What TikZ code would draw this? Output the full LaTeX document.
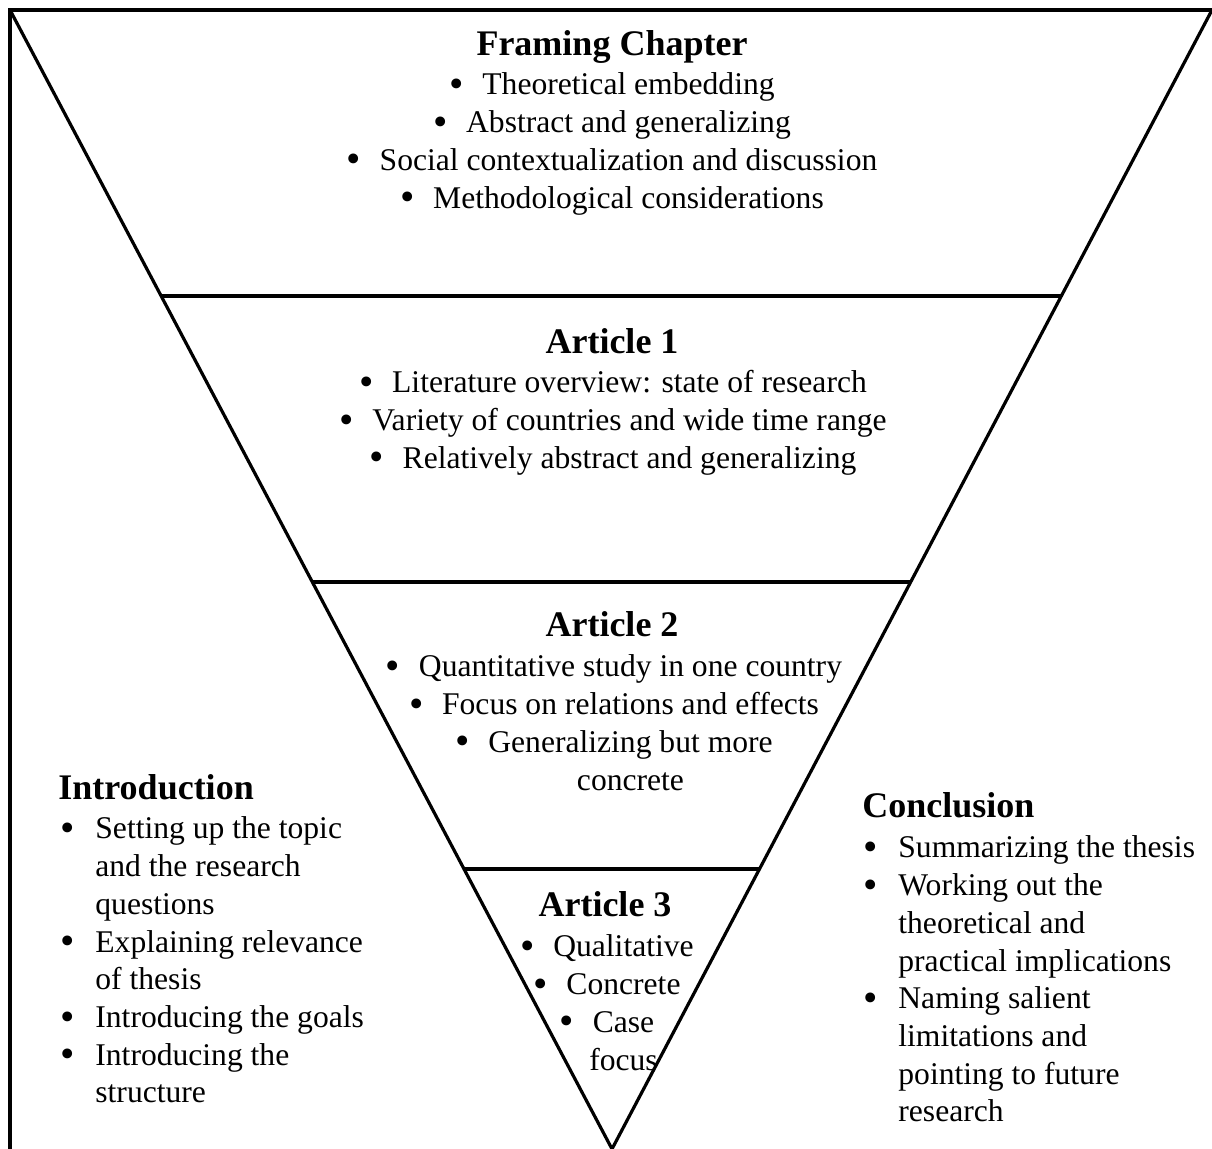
\documentclass[tikz,border=0pt]{standalone}
\usepackage{fontspec}
\usepackage{graphicx}
\setmainfont{Liberation Serif}
\usetikzlibrary{calc}

% a slightly heavier bullet, then a fixed gap before the item text
\newcommand\bulglyph{\raisebox{-0.08em}{\scalebox{1.3}{\textbullet}}}
\newcommand\cbul{\makebox[16.5pt][l]{\bulglyph}}
\newcommand\clpad{\hspace*{16.5pt}}

\begin{document}
\begin{tikzpicture}[x=0.5pt,y=-0.5pt,
  edge/.style={line width=1.6pt, line join=miter},
  head/.style={inner sep=0pt, font=\fontsize{18}{21.6}\selectfont\bfseries},
  items/.style={inner sep=0pt, font=\fontsize{15.8}{18.85}\selectfont},
]
\useasboundingbox (0,0) rectangle (1212,1149);

% outer frame and the inverted triangle
\coordinate (tl) at (10,10);
\coordinate (tr) at (1212,10);
\coordinate (apex) at (612,1149);
\coordinate (frameb) at (10,1170);
\coordinate (framer) at (1240,10);
\draw[edge] (frameb) -- (tl) -- (framer);
\draw[edge] (tl) -- (apex) -- (tr);

% dividers between the levels
\coordinate (d1l) at ($(tl)!0.2511!(apex)$);
\coordinate (d1r) at ($(tr)!0.2511!(apex)$);
\coordinate (d2l) at ($(tl)!0.5022!(apex)$);
\coordinate (d2r) at ($(tr)!0.5022!(apex)$);
\coordinate (d3l) at ($(tl)!0.7542!(apex)$);
\coordinate (d3r) at ($(tr)!0.7542!(apex)$);
\draw[edge] (d1l) -- (d1r);
\draw[edge] (d2l) -- (d2r);
\draw[edge] (d3l) -- (d3r);

% Framing chapter
\node[head, anchor=base] (fch) at (612,56) {Framing Chapter};
\node[items, anchor=base] (fcl) at (612,95) {\begin{tabular}[t]{@{}c@{}}
  \cbul Theoretical embedding\\
  \cbul Abstract and generalizing\\
  \cbul Social contextualization and discussion\\
  \cbul Methodological considerations
\end{tabular}};

% Article 1
\node[head, anchor=base] (a1h) at (612,354) {Article 1};
\node[items, anchor=base] (a1l) at (613,393) {\begin{tabular}[t]{@{}c@{}}
  \cbul Literature overview: state of research\\
  \cbul Variety of countries and wide time range\\
  \cbul Relatively abstract and generalizing
\end{tabular}};

% Article 2
\node[head, anchor=base] (a2h) at (612,637) {Article 2};
\node[items, anchor=base] (a2l) at (614,677) {\begin{tabular}[t]{@{}c@{}}
  \cbul Quantitative study in one country\\
  \cbul Focus on relations and effects\\
  \cbul Generalizing but more\\
  \clpad concrete
\end{tabular}};

% Article 3
\node[head, anchor=base] (a3h) at (605,917) {Article 3};
\node[items, anchor=base] (a3l) at (607,957) {\begin{tabular}[t]{@{}c@{}}
  \cbul Qualitative\\
  \cbul Concrete\\
  \cbul Case\\
  \clpad focus
\end{tabular}};

% Introduction
\node[head, anchor=base west] (inh) at (58,800) {Introduction};
\node[items, anchor=base west] (inl) at (60,839) {\begin{tabular}[t]{@{}p{17.5pt}@{}l@{}}
  \bulglyph & Setting up the topic\\
  & and the research\\
  & questions\\
  \bulglyph & Explaining relevance\\
  & of thesis\\
  \bulglyph & Introducing the goals\\
  \bulglyph & Introducing the\\
  & structure
\end{tabular}};

% Conclusion
\node[head, anchor=base west] (coh) at (862,818) {Conclusion};
\node[items, anchor=base west] (col) at (863,858) {\begin{tabular}[t]{@{}p{17.5pt}@{}l@{}}
  \bulglyph & Summarizing the thesis\\
  \bulglyph & Working out the\\
  & theoretical and\\
  & practical implications\\
  \bulglyph & Naming salient\\
  & limitations and\\
  & pointing to future\\
  & research
\end{tabular}};
\end{tikzpicture}
\end{document}
